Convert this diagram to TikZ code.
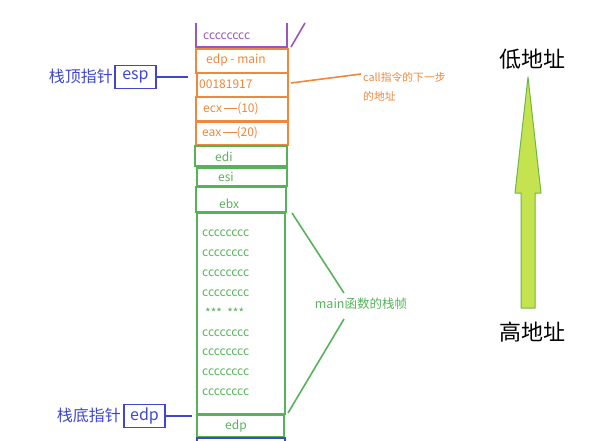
\documentclass[tikz,border=0pt]{standalone}
\usepackage{fontspec}
\setmainfont{Noto Sans CJK SC}
\definecolor{cpurple}{HTML}{9C55B8}
\definecolor{corange}{HTML}{F0873A}
\definecolor{cgreen}{HTML}{56B35A}
\definecolor{cblue}{HTML}{3F48CC}
\definecolor{carrowfill}{HTML}{C5E34F}
\definecolor{carrowline}{HTML}{6CB64B}
\newcommand{\thickdash}{\,\rule[0.3em]{1.1em}{1.4pt}}
\begin{document}
\begin{tikzpicture}[x=1pt,y=-1pt,
  cell/.style={draw, line width=1.6pt, inner sep=0pt, outer sep=0pt},
  ocell/.style={cell, draw=corange},
  gcell/.style={cell, draw=cgreen},
  celltext/.style={inner sep=0pt, anchor=west, font=\fontsize{12}{14}\selectfont},
  otext/.style={celltext, text=corange},
  gtext/.style={celltext, text=cgreen},
  bluebox/.style={draw=cblue, line width=1.6pt, text=cblue, inner sep=0pt, minimum width=41pt, minimum height=23pt, font=\fontsize{16}{18}\selectfont},
  bluelabel/.style={text=cblue, inner sep=0pt, anchor=east, font=\fontsize{16}{18}\selectfont},
  addr/.style={inner sep=0pt, font=\fontsize{22}{24}\selectfont},
  conn/.style={line width=1.6pt}
]
\useasboundingbox (0,0) rectangle (605,441);

% purple (cut) cell on top
\draw[cpurple, line width=1.6pt] (196,23) -- (196,47) -- (287,47) -- (287,23);
\node[celltext, text=cpurple] (ctop) at (203,36) {cccccccc};
\coordinate (pa) at (291,47);
\coordinate (pb) at (305,23);
\draw[cpurple, conn] (pa) -- (pb);

% orange cells
\node[ocell, minimum width=92pt, minimum height=24pt] (edpmain) at (242,61) {};
\node[otext] (tedpmain) at (206,60) {edp - main};
\node[ocell, minimum width=91pt, minimum height=24pt] (ret) at (242.5,85) {};
\node[otext] (tret) at (199,84) {00181917};
\node[ocell, minimum width=92pt, minimum height=24pt] (ecx) at (242,109) {};
\node[otext] (tecx) at (203,109) {ecx\thickdash(10)};
\node[ocell, minimum width=92pt, minimum height=23pt] (eax) at (242,133.5) {};
\node[otext] (teax) at (202,133) {eax\thickdash(20)};

% green cells
\node[gcell, minimum width=92pt, minimum height=20pt] (edi) at (241,156) {};
\node[gtext] (tedi) at (215,157) {edi};
\node[gcell, minimum width=90pt, minimum height=18pt] (esi) at (242,177) {};
\node[gtext] (tesi) at (218,177) {esi};
\node[gcell, minimum width=90pt, minimum height=25pt] (ebx) at (241,199.5) {};
\node[gtext] (tebx) at (219,204) {ebx};
\node[gcell, minimum width=88pt, minimum height=201pt] (frame) at (241,313.5) {};
\node[gtext] (c1) at (202,233) {cccccccc};
\node[gtext] (c2) at (202,253) {cccccccc};
\node[gtext] (c3) at (202,273) {cccccccc};
\node[gtext] (c4) at (202,293) {cccccccc};
\node[gtext] (dots) at (205,313) {*** \ ***};
\node[gtext] (c5) at (202,333) {cccccccc};
\node[gtext] (c6) at (202,352) {cccccccc};
\node[gtext] (c7) at (202,372) {cccccccc};
\node[gtext] (c8) at (202,392) {cccccccc};
\node[gcell, minimum width=87pt, minimum height=22pt] (edpbot) at (240.5,426) {};
\node[gtext] (tedpbot) at (225,426) {edp};

% blue (cut) cell at bottom
\draw[cblue, line width=1.6pt] (197,442) -- (197,438) -- (285,438) -- (285,442);

% orange note
\node[inner sep=0pt, anchor=west, align=left, text=corange, font=\fontsize{10.8}{19}\selectfont] (callnote) at (363,86.5) {call指令的下一步\\的地址};
\coordinate (oa) at (291,83);
\coordinate (ob) at (361,74);
\draw[corange, conn] (oa) -- (ob);

% green note
\node[inner sep=0pt, text=cgreen, font=\fontsize{12.5}{14}\selectfont] (mainnote) at (361,304) {main函数的栈帧};
\coordinate (ga) at (292,213);
\coordinate (gb) at (344,293);
\coordinate (gc) at (344,319);
\coordinate (gd) at (288,413);
\draw[cgreen, conn] (ga) -- (gb);
\draw[cgreen, conn] (gc) -- (gd);

% pointers
\node[bluebox] (esp) at (135.5,77) {esp};
\node[bluelabel] (esplabel) at (113,76) {栈顶指针};
\coordinate (espend) at (188,77);
\draw[cblue, conn] (esp.east) -- (espend);

\node[bluebox] (edp) at (144.5,416) {edp};
\node[bluelabel] (edplabel) at (121,415) {栈底指针};
\coordinate (edpend) at (192,416);
\draw[cblue, conn] (edp.east) -- (edpend);

% address direction arrow
\node[addr] (low) at (532,59) {低地址};
\node[addr] (high) at (532,332) {高地址};
\draw[carrowline, fill=carrowfill, line width=1pt, line join=round]
  (528,77) -- (541,193) -- (535,193) -- (535,308) -- (521,308) -- (521,193) -- (515,193) -- cycle;
\end{tikzpicture}
\end{document}
